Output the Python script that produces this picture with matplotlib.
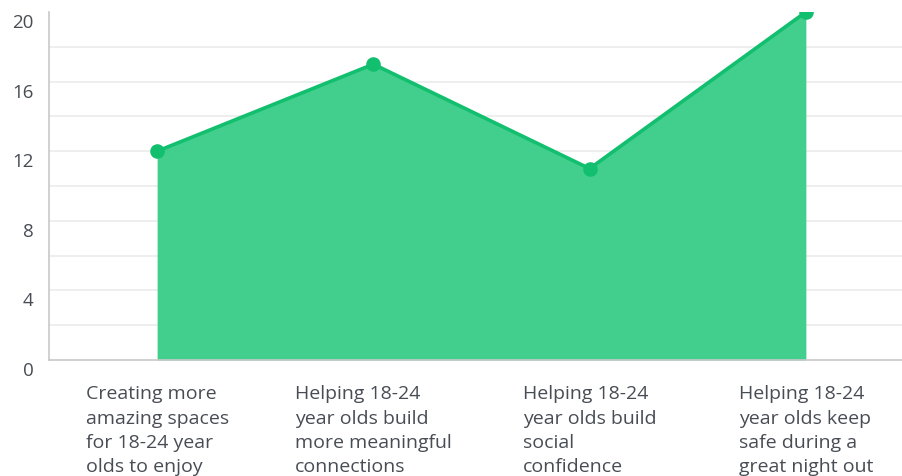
import matplotlib
matplotlib.use('Agg')
import matplotlib.pyplot as plt
import matplotlib.transforms as mtransforms

categorias = [
    "Creating more\namazing spaces\nfor 18-24 year\nolds to enjoy",
    "Helping 18-24\nyear olds build\nmore meaningful\nconnections",
    "Helping 18-24\nyear olds build\nsocial\nconfidence",
    "Helping 18-24\nyear olds keep\nsafe during a\ngreat night out",
]
valores = [12, 17, 11, 20]
ticks_y = [0, 4, 8, 12, 16, 20]
grid_y = [2, 4, 6, 8, 10, 12, 14, 16, 18]

plt.rcParams['font.family'] = ['Open Sans', 'DejaVu Sans']
color_texto = '#484d55'
color_linea = '#12bf6e'
color_area = '#42cf8e'

W, H = 903, 477
fig = plt.figure(figsize=(W / 100, H / 100), dpi=100)
# el eje se sale un poco por la derecha, como en la referencia
ax = fig.add_axes([49 / W, 1 - 361 / H, (914 - 49) / W, (361 - 13) / H])

x = list(range(len(valores)))
ax.fill_between(x, 0, valores, color=color_area, linewidth=0, zorder=2)
ax.plot(x, valores, color=color_linea, linewidth=2.6, zorder=3, clip_on=True)
ax.scatter(x, valores, s=110, color=color_linea, zorder=4, clip_on=True, linewidths=0)

ax.set_xlim(-0.5, 3.5)
ax.set_ylim(0, 20)

for g in grid_y:
    ax.axhline(g, color='#ebebeb', linewidth=1.2, zorder=1)

for s in ['top', 'right']:
    ax.spines[s].set_visible(False)
ax.spines['left'].set_color('#c8c8c8')
ax.spines['bottom'].set_color('#c8c8c8')
ax.spines['left'].set_linewidth(1.2)
ax.spines['bottom'].set_linewidth(1.2)

ax.set_yticks(ticks_y)
ax.set_yticklabels([str(t) for t in ticks_y])
ax.tick_params(axis='y', length=0, pad=11, labelsize=13.5, labelcolor=color_texto)
offset = mtransforms.ScaledTranslation(0, -8 / 100, fig.dpi_scale_trans)
for lbl in ax.get_yticklabels():
    lbl.set_transform(lbl.get_transform() + offset)

ax.set_xticks(x)
ax.set_xticklabels(categorias, multialignment='left', linespacing=1.45)
ax.tick_params(axis='x', length=0, pad=17.5, labelsize=14, labelcolor=color_texto)

fig.savefig('out.png', dpi=100)
